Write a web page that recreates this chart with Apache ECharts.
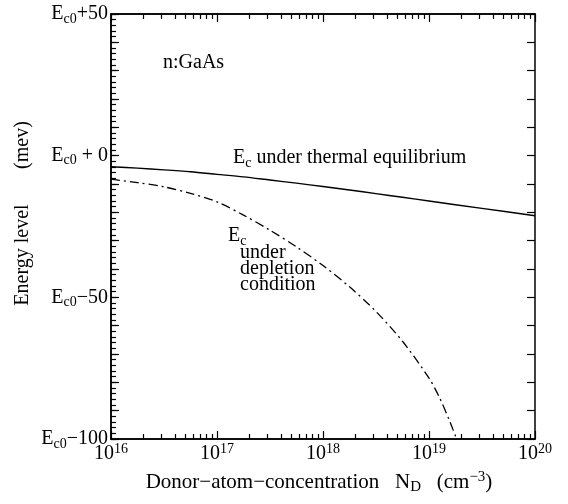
<!DOCTYPE html>
<html>
<head>
<meta charset="utf-8">
<title>n:GaAs Ec</title>
<script src="https://cdn.jsdelivr.net/npm/echarts@6/dist/echarts.min.js"></script>
<style>
    html, body { margin: 0; padding: 0; background: #fff; }
    #chart { width: 568px; height: 504px; }
</style>
</head>
<body>
<div id="chart"></div>
<script>
// data
var thermalN = [1e16, 1.78e16, 3.16e16, 5.62e16, 1e17, 1.78e17, 3.16e17, 5.62e17, 1e18, 1.78e18, 3.16e18, 5.62e18, 1e19, 3.16e19, 1e20];
var thermalE = [-3.9, -4.4, -5.0, -5.7, -6.6, -7.5, -8.6, -9.7, -10.9, -12.1, -13.4, -14.7, -16.0, -18.6, -21.2];
var depletionN = [1e16, 1.78e16, 3.16e16, 5.62e16, 1e17, 1.78e17, 3.16e17, 5.62e17, 1e18, 1.78e18, 3.16e18, 5.62e18, 1e19, 1.26e19, 1.58e19, 1.82e19];
var depletionE = [-8.3, -9.5, -11.0, -13.3, -16.3, -21.0, -26.3, -32.2, -38.8, -46.3, -55.0, -65.5, -78.5, -85.5, -94.0, -100];
var decadeTicks = [1e16, 1e17, 1e18, 1e19, 1e20];
var decadeLabels = ["16", "17", "18", "19", "20"];
var yTickLabels = { "50": "+50", "0": " + 0", "-50": "\u221250", "-100": "\u2212100" };

(function() {
    var serif = "'Liberation Serif', 'Times New Roman', serif",
        chart = echarts.init(document.getElementById("chart"), null, { renderer: "canvas" }),
        minorTicks = [];

    // 2..9 in every decade
    decadeTicks.slice(0, -1).forEach(function(d) {
        for (var m = 2; m <= 9; m++) {
            minorTicks.push(m * d);
        }
    });

    function pairs(xs, ys) {
        return xs.map(function(x, i) {
            return [x, ys[i]];
        });
    }

    var rich = {
        b: { fontFamily: serif, fontSize: 20, color: "#000", lineHeight: 24 },
        sub: { fontFamily: serif, fontSize: 14, color: "#000", lineHeight: 13, verticalAlign: "bottom" },
        sup: { fontFamily: serif, fontSize: 14, color: "#000", lineHeight: 13, verticalAlign: "top" }
    };
    var richName = {
        b: { fontFamily: serif, fontSize: 21, color: "#000", lineHeight: 25 },
        sub: { fontFamily: serif, fontSize: 15, color: "#000", lineHeight: 14, verticalAlign: "bottom" },
        sup: { fontFamily: serif, fontSize: 15, color: "#000", lineHeight: 14, verticalAlign: "top" }
    };

    function xLabel(v) {
        var e = Math.round(Math.log(v) / Math.LN10);
        return "{b|10}{sup|" + decadeLabels[e - 16] + "}";
    }

    function yLabel(v) {
        var t = yTickLabels[String(v)];
        return t ? "{b|E}{sub|c0}{b|" + t + "}" : "";
    }

    function xAxisOf(pos, ticks, len, labels) {
        return {
            type: "log",
            logBase: 10,
            min: 1e16,
            max: 1e20,
            position: pos,
            axisLine: { show: true, onZero: false, lineStyle: { color: "#000", width: 1.5 } },
            axisTick: { show: true, inside: true, length: len, customValues: ticks, lineStyle: { color: "#000", width: 1.2 } },
            axisLabel: { show: labels, customValues: decadeTicks, margin: 3, formatter: xLabel, rich: rich },
            splitLine: { show: false }
        };
    }

    function yAxisOf(pos, step, len, labels) {
        return {
            type: "value",
            min: -100,
            max: 50,
            interval: step,
            position: pos,
            axisLine: { show: true, onZero: false, lineStyle: { color: "#000", width: 1.5 } },
            axisTick: { show: true, inside: true, length: len, lineStyle: { color: "#000", width: 1.2 } },
            axisLabel: { show: labels, margin: 3, formatter: yLabel, rich: rich },
            splitLine: { show: false }
        };
    }

    var xAxes = [
        xAxisOf("bottom", decadeTicks, 8, true),
        xAxisOf("bottom", minorTicks, 5, false),
        xAxisOf("top", decadeTicks, 8, false),
        xAxisOf("top", minorTicks, 5, false)
    ];
    xAxes[0].name = "{b|Donor\u2212atom\u2212concentration   N}{sub|D}{b|   (cm}{sup|\u22123}{b|)}";
    xAxes[0].nameLocation = "middle";
    xAxes[0].nameGap = 31;
    xAxes[0].nameTextStyle = { rich: richName, padding: [0, 8, 0, 0] };

    var yAxes = [
        yAxisOf("left", 10, 8, true),
        yAxisOf("right", 10, 8, false),
        yAxisOf("left", 2, 5, false) // minor ticks
    ];

    var option = {
        animation: false,
        backgroundColor: "#fff",
        grid: { left: 111, right: 33, top: 14, bottom: 65 },
        xAxis: xAxes,
        yAxis: yAxes,
        series: [{
            name: "thermal",
            type: "line",
            symbol: "none",
            smooth: 0.3,
            lineStyle: { color: "#000", width: 1.4 },
            data: pairs(thermalN, thermalE)
        }, {
            name: "depletion",
            type: "line",
            symbol: "none",
            smooth: 0.3,
            lineStyle: { color: "#000", width: 1.3, type: [9, 4, 2, 4] },
            data: pairs(depletionN, depletionE)
        }],
        graphic: [
            { type: "text", x: 163, y: 63, style: { text: "n:GaAs", font: "20px " + serif, fill: "#000", verticalAlign: "middle" } },
            { type: "text", x: 233, y: 158, style: { text: "{b|E}{sub|c}{b| under thermal equilibrium}", rich: rich, verticalAlign: "middle" } },
            { type: "text", x: 228, y: 236, style: { text: "{b|E}{sub|c}", rich: rich, verticalAlign: "middle" } },
            { type: "text", x: 240, y: 253, style: { text: "under", font: "20px " + serif, fill: "#000", verticalAlign: "middle" } },
            { type: "text", x: 240, y: 269, style: { text: "depletion", font: "20px " + serif, fill: "#000", verticalAlign: "middle" } },
            { type: "text", x: 240, y: 285, style: { text: "condition", font: "20px " + serif, fill: "#000", verticalAlign: "middle" } },
            // y axis title, two pieces
            { type: "text", x: 23, y: 255, rotation: Math.PI / 2, style: { text: "Energy level", font: "20px " + serif, fill: "#000", align: "center", verticalAlign: "middle" } },
            { type: "text", x: 23, y: 145, rotation: Math.PI / 2, style: { text: "(mev)", font: "20px " + serif, fill: "#000", align: "center", verticalAlign: "middle" } }
        ]
    };

    chart.setOption(option);
}());
</script>
</body>
</html>
